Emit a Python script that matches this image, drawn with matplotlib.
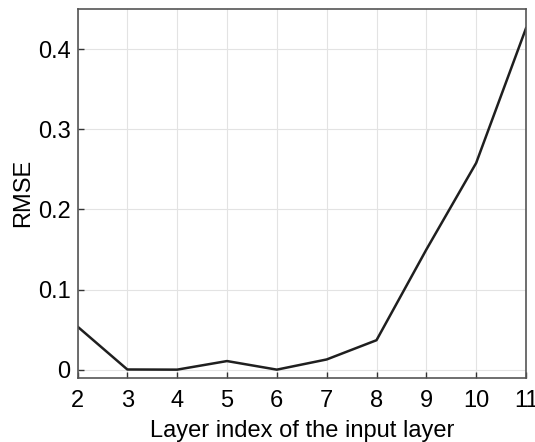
import matplotlib
matplotlib.use("Agg")
import matplotlib.pyplot as plt

layers = [2, 3, 4, 5, 6, 7, 8, 9, 10, 11]
rmse = [0.054, 0.0005, 0.0003, 0.011, 0.0003, 0.013, 0.037, 0.150, 0.258, 0.426]
xticks = [2, 3, 4, 5, 6, 7, 8, 9, 10, 11]
yticks = [0, 0.1, 0.2, 0.3, 0.4]
yticklabels = ["0", "0.1", "0.2", "0.3", "0.4"]

plt.rcParams['font.family'] = ['Liberation Sans', 'DejaVu Sans']

fig = plt.figure(figsize=(5.35, 4.42), dpi=100)
ax = fig.add_axes([77.5/535, 1 - 377.5/442, (526 - 77.5)/535, (377.5 - 9)/442])

ax.plot(layers, rmse, color='#1f1f1f', linewidth=1.8, clip_on=True)
ax.set_xlim(2, 11)
ax.set_ylim(-0.0095, 0.45)
ax.set_xticks(xticks)
ax.set_yticks(yticks)
ax.set_yticklabels(yticklabels)
ax.grid(True, color='#e3e3e3', linewidth=0.8)
ax.set_axisbelow(True)
for s in ax.spines.values():
    s.set_color('#555555')
    s.set_linewidth(1.2)
ax.tick_params(direction='in', length=4, width=1, color='#333333', labelsize=17,
               labelcolor='black')
ax.tick_params(axis='x', pad=9)
ax.tick_params(axis='y', pad=5)
ax.set_xlabel("Layer index of the input layer", fontsize=17, labelpad=6)
ax.set_ylabel("RMSE", fontsize=17, labelpad=3)

fig.savefig("out.png", dpi=100)
